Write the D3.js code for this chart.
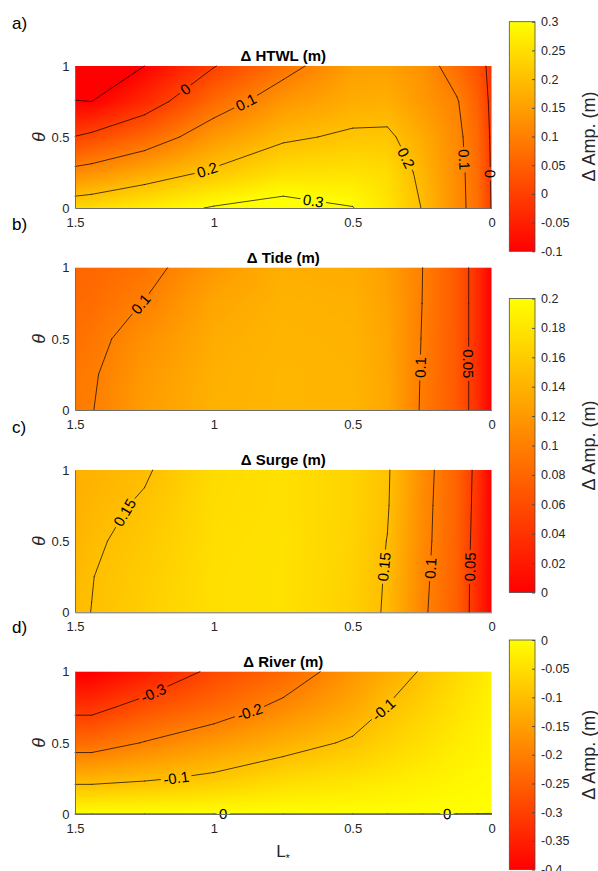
<html lang="en">
<head>
<script src="https://d3js.org/d3.v7.min.js"></script>
<style>
  body { margin: 0; background: white; }
  text { font-family: "Liberation Sans", Arial, sans-serif; }
</style>
</head>
<body>
<svg id="fig" width="598" height="871"></svg>
<script>
  // grid of the model runs
  const Lstar = [0, 0.05, 0.125, 0.25, 0.375, 0.5, 0.75, 1.0, 1.25, 1.44, 1.5];
  const theta = [0, 0.25, 0.5, 0.75, 1];

  // rows follow theta (0 .. 1), columns follow Lstar
  const htwl = [
    [-0.003, 0.075, 0.12, 0.198, 0.26, 0.302, 0.325, 0.305, 0.27, 0.245, 0.24],
    [-0.006, 0.07, 0.12, 0.185, 0.245, 0.255, 0.25, 0.21, 0.164, 0.128, 0.12],
    [-0.01, 0.065, 0.115, 0.17, 0.21, 0.21, 0.19, 0.139, 0.06, 0.015, 0.002],
    [-0.015, 0.05, 0.105, 0.14, 0.175, 0.17, 0.137, 0.066, -0.036, -0.1, -0.097],
    [-0.02, 0.03, 0.07, 0.13, 0.15, 0.15, 0.077, -0.003, -0.1, -0.17, -0.18]
  ];
  const tide = [
    [0, 0.035, 0.07, 0.097, 0.132, 0.141, 0.143, 0.139, 0.123, 0.099, 0.096],
    [0, 0.035, 0.07, 0.098, 0.131, 0.141, 0.143, 0.138, 0.12, 0.097, 0.094],
    [0, 0.035, 0.07, 0.099, 0.13, 0.14, 0.142, 0.135, 0.113, 0.092, 0.088],
    [0, 0.035, 0.07, 0.1, 0.128, 0.138, 0.14, 0.13, 0.101, 0.085, 0.083],
    [0, 0.035, 0.07, 0.1005, 0.125, 0.135, 0.137, 0.12, 0.09, 0.08, 0.078]
  ];
  const surge = [
    [0, 0.033, 0.075, 0.105, 0.147, 0.163, 0.177, 0.175, 0.162, 0.1502, 0.147],
    [0, 0.034, 0.076, 0.107, 0.148, 0.164, 0.177, 0.175, 0.16, 0.1495, 0.145],
    [0, 0.036, 0.077, 0.109, 0.1495, 0.165, 0.177, 0.174, 0.157, 0.147, 0.141],
    [0, 0.038, 0.078, 0.11, 0.152, 0.166, 0.176, 0.173, 0.153, 0.143, 0.138],
    [0, 0.04, 0.078, 0.112, 0.153, 0.166, 0.176, 0.172, 0.147, 0.14, 0.136]
  ];
  const river = [
    [0.0001, 0.0001, 0.0001, 0.0001, 0.0001, 0.0001, 0.0001, 0.0001, 0.0001, 0.0001, 0.0001],
    [-0.006, -0.01, -0.015, -0.025, -0.035, -0.045, -0.06, -0.088, -0.108, -0.12, -0.12],
    [-0.012, -0.02, -0.03, -0.05, -0.07, -0.092, -0.125, -0.16, -0.197, -0.23, -0.23],
    [-0.018, -0.03, -0.045, -0.072, -0.098, -0.135, -0.185, -0.235, -0.275, -0.32, -0.32],
    [-0.024, -0.04, -0.06, -0.095, -0.13, -0.165, -0.24, -0.285, -0.36, -0.405, -0.41]
  ];

  const htwlLevels = [-0.1, 0, 0.1, 0.2, 0.3];
  const tideLevels = [0.05, 0.1];
  const surgeLevels = [0.05, 0.1, 0.15];
  const riverLevels = [-0.3, -0.2, -0.1, 0];

  // where the contour labels sit (level, L*, theta)
  const htwlLabels = [[0, 1.10, 0.83], [0.1, 0.888, 0.76], [0.2, 1.026, 0.28], [0.2, 0.33, 0.33],
                      [0.3, 0.644, 0.02], [0.1, 0.10, 0.34], [0, 0.01, 0.24]];
  const tideLabels = [[0.1, 1.26, 0.74], [0.1, 0.266, 0.30], [0.05, 0.081, 0.325]];
  const surgeLabels = [[0.15, 1.326, 0.707], [0.15, 0.384, 0.32], [0.1, 0.228, 0.31], [0.05, 0.084, 0.32]];
  const riverLabels = [[-0.3, 1.218, 0.852], [-0.2, 0.876, 0.747], [-0.1, 1.134, 0.232],
                       [-0.1, 0.39, 0.736], [0, 0.966, 0], [0, 0.16, 0]];

  const xTicks = [1.5, 1, 0.5, 0];
  const yTicks = [0, 0.5, 1];
  const cbTicksA = [-0.1, -0.05, 0, 0.05, 0.1, 0.15, 0.2, 0.25, 0.3];
  const cbTicksBC = [0, 0.02, 0.04, 0.06, 0.08, 0.1, 0.12, 0.14, 0.16, 0.18, 0.2];
  const cbTicksD = [-0.4, -0.35, -0.3, -0.25, -0.2, -0.15, -0.1, -0.05, 0];

  const svg = d3.select("#fig");
  svg.append("rect").attr("width", 598).attr("height", 871).attr("fill", "white");
  const defs = svg.append("defs");
  const fmt = d => String(Math.round(d * 1000) / 1000);

  const x = d3.scaleLinear().domain([1.5, 0]).range([75, 491.5]);

  const colA = d3.scaleSequential(d3.interpolateRgb("#ff0000", "#ffff00")).domain([-0.1, 0.3]).clamp(true);
  const colBC = d3.scaleSequential(d3.interpolateRgb("#ff0000", "#ffff00")).domain([0, 0.2]).clamp(true);
  const colD = d3.scaleSequential(d3.interpolateRgb("#ff0000", "#ffff00")).domain([-0.4, 0]).clamp(true);

  const panels = [
    { id: "a", letter: "a)", title: "Δ HTWL (m)", grid: htwl, levels: htwlLevels, labels: htwlLabels, top: 66, bottom: 208, color: colA, letterY: 29 },
    { id: "b", letter: "b)", title: "Δ Tide (m)", grid: tide, levels: tideLevels, labels: tideLabels, top: 267.7, bottom: 410, color: colBC, letterY: 230 },
    { id: "c", letter: "c)", title: "Δ Surge (m)", grid: surge, levels: surgeLevels, labels: surgeLabels, top: 470, bottom: 612.3, color: colBC, letterY: 433 },
    { id: "d", letter: "d)", title: "Δ River (m)", grid: river, levels: riverLevels, labels: riverLabels, top: 671.7, bottom: 814, color: colD, letterY: 633 }
  ];

  function valueAt(g, L, th) {
    const i = Math.max(0, Math.min(Lstar.length - 2, d3.bisectRight(Lstar, L) - 1));
    const j = Math.max(0, Math.min(theta.length - 2, d3.bisectRight(theta, th) - 1));
    const u = (L - Lstar[i]) / (Lstar[i + 1] - Lstar[i]);
    const v = (th - theta[j]) / (theta[j + 1] - theta[j]);
    return (1 - u) * (1 - v) * g[j][i] + u * (1 - v) * g[j][i + 1] + (1 - u) * v * g[j + 1][i] + u * v * g[j + 1][i + 1];
  }

  // marching squares on the (non uniform) model grid
  function isoSegments(g, level) {
    const segs = [];
    for (let j = 0; j < theta.length - 1; j++) {
      for (let i = 0; i < Lstar.length - 1; i++) {
        const c = [[Lstar[i], theta[j], g[j][i]], [Lstar[i + 1], theta[j], g[j][i + 1]],
                   [Lstar[i + 1], theta[j + 1], g[j + 1][i + 1]], [Lstar[i], theta[j + 1], g[j + 1][i]]];
        const pts = [];
        for (let k = 0; k < 4; k++) {
          const a = c[k], b = c[(k + 1) % 4];
          if ((a[2] < level) !== (b[2] < level)) {
            const t = (level - a[2]) / (b[2] - a[2]);
            pts.push([a[0] + t * (b[0] - a[0]), a[1] + t * (b[1] - a[1])]);
          }
        }
        if (pts.length === 2) segs.push(pts);
        else if (pts.length === 4) {
          const mid = (c[0][2] + c[1][2] + c[2][2] + c[3][2]) / 4;
          if ((mid < level) === (c[0][2] < level)) { segs.push([pts[0], pts[1]]); segs.push([pts[2], pts[3]]); }
          else { segs.push([pts[3], pts[0]]); segs.push([pts[1], pts[2]]); }
        }
      }
    }
    return segs;
  }

  panels.forEach(p => {
    const y = d3.scaleLinear().domain([0, 1]).range([p.bottom, p.top]);
    const W = Math.round(x.range()[1] - x.range()[0]);
    const H = Math.round(p.bottom - p.top);

    // shaded field
    const canvas = document.createElement("canvas");
    canvas.width = W; canvas.height = H;
    const ctx = canvas.getContext("2d");
    const img = ctx.createImageData(W, H);
    for (let py = 0; py < H; py++) {
      const th = y.invert(p.top + (py + 0.5) * (p.bottom - p.top) / H);
      for (let px = 0; px < W; px++) {
        const L = x.invert(x.range()[0] + (px + 0.5) * (x.range()[1] - x.range()[0]) / W);
        const c = d3.rgb(p.color(valueAt(p.grid, L, th)));
        const o = (py * W + px) * 4;
        img.data[o] = c.r; img.data[o + 1] = c.g; img.data[o + 2] = c.b; img.data[o + 3] = 255;
      }
    }
    ctx.putImageData(img, 0, 0);
    svg.append("image")
      .attr("x", x.range()[0]).attr("y", p.top)
      .attr("width", x.range()[1] - x.range()[0]).attr("height", p.bottom - p.top)
      .attr("preserveAspectRatio", "none")
      .attr("href", canvas.toDataURL());

    // contour lines, with gaps under the labels
    const mask = defs.append("mask").attr("id", "gap-" + p.id)
      .attr("maskUnits", "userSpaceOnUse").attr("x", 0).attr("y", 0).attr("width", 598).attr("height", 871);
    mask.append("rect").attr("width", 598).attr("height", 871).attr("fill", "white");

    const lines = svg.append("g").attr("mask", "url(#gap-" + p.id + ")");
    const segsByLevel = new Map();
    p.levels.forEach(lev => {
      const segs = isoSegments(p.grid, lev).map(s => s.map(q => [x(q[0]), y(q[1])]));
      segsByLevel.set(lev, segs);
      lines.append("path")
        .attr("d", segs.map(s => "M" + s[0][0] + "," + s[0][1] + "L" + s[1][0] + "," + s[1][1]).join(""))
        .attr("fill", "none").attr("stroke", "#000").attr("stroke-width", 0.7)
        .attr("stroke-linecap", "round");
    });

    p.labels.forEach(([lev, L, th]) => {
      const tx = x(L), ty = y(th);
      let best = null;
      segsByLevel.get(lev).forEach(s => {
        const [a, b] = s;
        const dx = b[0] - a[0], dy = b[1] - a[1];
        const len2 = dx * dx + dy * dy || 1e-9;
        const t = Math.max(0, Math.min(1, ((tx - a[0]) * dx + (ty - a[1]) * dy) / len2));
        const qx = a[0] + t * dx, qy = a[1] + t * dy;
        const d = (qx - tx) ** 2 + (qy - ty) ** 2;
        if (!best || d < best.d) best = { d, qx, qy, ang: Math.atan2(dy, dx) * 180 / Math.PI };
      });
      if (!best) return;
      let ang = best.ang;
      if (ang > 90) ang -= 180;
      if (ang <= -90) ang += 180;
      const tr = "translate(" + best.qx + "," + best.qy + ") rotate(" + ang + ")";
      const t = svg.append("text").attr("transform", tr)
        .attr("text-anchor", "middle").attr("dominant-baseline", "central")
        .attr("font-size", 15).attr("fill", "#000").text(fmt(lev));
      const w = t.node().getComputedTextLength() + 5;
      mask.append("rect").attr("transform", tr)
        .attr("x", -w / 2).attr("y", -6.5).attr("width", w).attr("height", 13).attr("fill", "black");
    });

    // axes
    const gx = svg.append("g").attr("transform", "translate(0," + p.bottom + ")")
      .call(d3.axisBottom(x).tickValues(xTicks).tickFormat(fmt).tickSize(0).tickPadding(9.5));
    const gy = svg.append("g").attr("transform", "translate(" + x.range()[0] + ",0)")
      .call(d3.axisLeft(y).tickValues(yTicks).tickFormat(fmt).tickSize(0).tickPadding(5.5));
    [gx, gy].forEach(g => {
      g.attr("font-size", 13).attr("font-family", "Liberation Sans, Arial, sans-serif").attr("color", "#262626");
      g.select(".domain").attr("stroke", "#6e6e6e").attr("stroke-width", 1);
    });

    // theta label
    svg.append("text")
      .attr("transform", "translate(39," + (p.top + p.bottom) / 2 + ") rotate(-90)")
      .attr("text-anchor", "middle").attr("dominant-baseline", "central")
      .attr("font-family", "DejaVu Serif, serif").attr("font-style", "italic")
      .attr("font-size", 18).attr("fill", "#262626").text("θ");

    // title and panel letter
    svg.append("text").attr("x", (x.range()[0] + x.range()[1]) / 2).attr("y", p.top - 5)
      .attr("text-anchor", "middle").attr("font-weight", "bold").attr("font-size", 15)
      .attr("fill", "#000").text(p.title);
    svg.append("text").attr("x", 12).attr("y", p.letterY)
      .attr("font-size", 17).attr("fill", "#000").text(p.letter);
  });

  // x label
  const xl = svg.append("text").attr("x", 283).attr("y", 857)
    .attr("text-anchor", "middle").attr("font-size", 17).attr("fill", "#262626");
  xl.append("tspan").text("L");
  xl.append("tspan").attr("font-size", 11).attr("dy", 5).text("*");

  // colorbars
  const bars = [
    { id: "cbA", color: colA, ticks: cbTicksA, top: 21.7, bottom: 251.3 },
    { id: "cbBC", color: colBC, ticks: cbTicksBC, top: 298.5, bottom: 592.5 },
    { id: "cbD", color: colD, ticks: cbTicksD, top: 640, bottom: 869.5 }
  ];
  const cbLeft = 509.3, cbRight = 535;
  bars.forEach(b => {
    const dom = b.color.domain();
    const s = d3.scaleLinear().domain(dom).range([b.bottom, b.top]);
    const grad = defs.append("linearGradient").attr("id", b.id)
      .attr("x1", 0).attr("y1", 1).attr("x2", 0).attr("y2", 0);
    grad.append("stop").attr("offset", 0).attr("stop-color", b.color(dom[0]));
    grad.append("stop").attr("offset", 1).attr("stop-color", b.color(dom[1]));
    svg.append("rect").attr("x", cbLeft).attr("y", b.top)
      .attr("width", cbRight - cbLeft).attr("height", b.bottom - b.top)
      .attr("fill", "url(#" + b.id + ")").attr("stroke", "#4d4d4d").attr("stroke-width", 0.8);
    const g = svg.append("g").attr("transform", "translate(" + cbRight + ",0)")
      .call(d3.axisRight(s).tickValues(b.ticks).tickFormat(fmt).tickSize(-3).tickPadding(6));
    g.attr("font-size", 12.5).attr("font-family", "Liberation Sans, Arial, sans-serif").attr("color", "#262626");
    g.select(".domain").remove();
    g.selectAll(".tick line").attr("stroke", "#4d4d4d");
    svg.append("text")
      .attr("transform", "translate(589," + (b.top + b.bottom) / 2 + ") rotate(-90)")
      .attr("text-anchor", "middle").attr("dominant-baseline", "central")
      .attr("font-size", 18).attr("fill", "#262626").text("Δ Amp. (m)");
  });
</script>
</body>
</html>
